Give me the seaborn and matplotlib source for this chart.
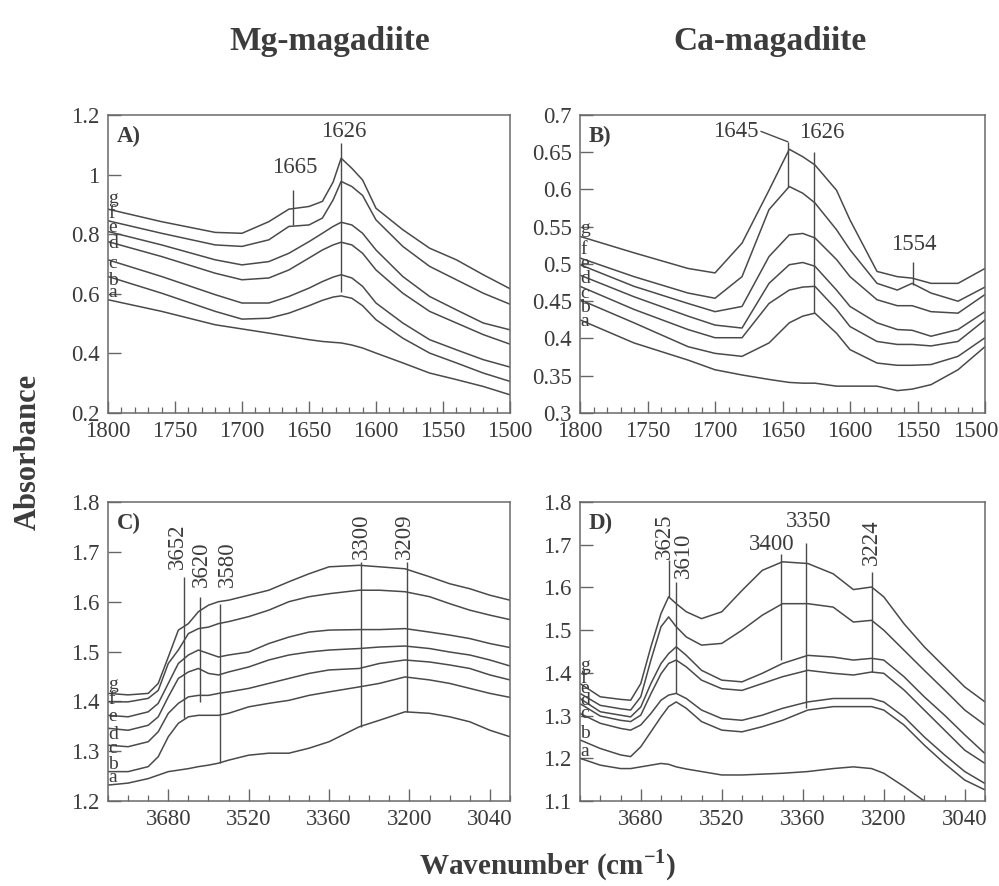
import numpy as np
import pandas as pd
import seaborn as sns
import matplotlib.pyplot as plt
from matplotlib.ticker import MultipleLocator, FixedLocator, FormatStrFormatter
from matplotlib.transforms import ScaledTranslation

# --- IR spectra (curves a..g, bottom to top) ---

# A) Mg-magadiite, bending region
wn_A = [1800, 1760, 1720, 1700, 1680, 1665, 1650, 1640, 1632, 1626, 1618, 1610,
        1600, 1580, 1560, 1540, 1520, 1500]
A_a = [0.580, 0.541, 0.496, 0.482, 0.468, 0.457, 0.446, 0.440, 0.437, 0.435, 0.428,
       0.418, 0.401, 0.368, 0.334, 0.312, 0.289, 0.261]
A_b = [0.658, 0.602, 0.541, 0.515, 0.518, 0.535, 0.560, 0.578, 0.589, 0.593, 0.585,
       0.560, 0.513, 0.451, 0.401, 0.368, 0.334, 0.306]
A_c = [0.714, 0.658, 0.597, 0.569, 0.569, 0.591, 0.619, 0.641, 0.656, 0.664, 0.653,
       0.625, 0.569, 0.502, 0.446, 0.412, 0.379, 0.354]
A_d = [0.775, 0.725, 0.669, 0.647, 0.653, 0.680, 0.720, 0.747, 0.764, 0.773, 0.764,
       0.736, 0.680, 0.602, 0.541, 0.502, 0.463, 0.431]
A_e = [0.809, 0.764, 0.714, 0.697, 0.708, 0.736, 0.775, 0.803, 0.826, 0.840, 0.831,
       0.803, 0.747, 0.658, 0.591, 0.546, 0.502, 0.479]
A_f = [0.845, 0.803, 0.764, 0.759, 0.781, 0.826, 0.831, 0.854, 0.915, 0.977, 0.960,
       0.930, 0.848, 0.759, 0.692, 0.647, 0.602, 0.565]
A_g = [0.884, 0.842, 0.806, 0.803, 0.842, 0.884, 0.893, 0.910, 0.975, 1.055, 1.021,
       0.982, 0.887, 0.815, 0.753, 0.714, 0.664, 0.617]

# B) Ca-magadiite, bending region
wn_B = [1800, 1760, 1720, 1700, 1680, 1660, 1645, 1635, 1626, 1610, 1600, 1580,
        1565, 1554, 1540, 1520, 1500]
B_a = [0.425, 0.394, 0.371, 0.358, 0.351, 0.345, 0.341, 0.340, 0.340, 0.336, 0.336,
       0.336, 0.330, 0.332, 0.338, 0.358, 0.389]
B_b = [0.452, 0.421, 0.389, 0.380, 0.376, 0.394, 0.421, 0.430, 0.434, 0.407, 0.385,
       0.367, 0.364, 0.364, 0.365, 0.376, 0.401]
B_c = [0.470, 0.439, 0.412, 0.401, 0.401, 0.447, 0.465, 0.469, 0.470, 0.439, 0.416,
       0.396, 0.392, 0.392, 0.390, 0.396, 0.425]
B_d = [0.485, 0.456, 0.430, 0.418, 0.414, 0.474, 0.499, 0.502, 0.497, 0.465, 0.443,
       0.421, 0.412, 0.411, 0.403, 0.412, 0.436]
B_e = [0.499, 0.470, 0.447, 0.436, 0.443, 0.510, 0.539, 0.541, 0.535, 0.506, 0.483,
       0.452, 0.444, 0.444, 0.436, 0.434, 0.459]
B_f = [0.508, 0.483, 0.461, 0.454, 0.483, 0.573, 0.604, 0.595, 0.582, 0.546, 0.519,
       0.474, 0.465, 0.474, 0.461, 0.450, 0.469]
B_g = [0.537, 0.515, 0.494, 0.488, 0.528, 0.599, 0.654, 0.644, 0.633, 0.599, 0.559,
       0.490, 0.483, 0.481, 0.474, 0.474, 0.494]

# C) Mg-magadiite, OH stretching region
wn_C = [3800, 3760, 3720, 3700, 3680, 3660, 3640, 3620, 3600, 3580, 3560, 3520,
        3480, 3440, 3400, 3360, 3300, 3260, 3209, 3160, 3120, 3080, 3040, 3000]
C_a = [1.232, 1.236, 1.245, 1.252, 1.259, 1.262, 1.265, 1.269, 1.272, 1.276, 1.282, 1.292,
       1.296, 1.296, 1.306, 1.319, 1.349, 1.362, 1.379, 1.376, 1.369, 1.359, 1.342, 1.329]
C_b = [1.259, 1.259, 1.269, 1.289, 1.329, 1.356, 1.369, 1.372, 1.372, 1.372, 1.376, 1.389,
       1.396, 1.402, 1.412, 1.419, 1.429, 1.436, 1.449, 1.443, 1.436, 1.426, 1.416, 1.408]
C_c = [1.312, 1.309, 1.319, 1.339, 1.376, 1.396, 1.409, 1.412, 1.412, 1.416, 1.419, 1.426,
       1.436, 1.446, 1.456, 1.463, 1.466, 1.476, 1.483, 1.479, 1.473, 1.466, 1.453, 1.443]
C_d = [1.346, 1.342, 1.352, 1.369, 1.409, 1.446, 1.459, 1.466, 1.456, 1.453, 1.459, 1.469,
       1.483, 1.493, 1.499, 1.503, 1.506, 1.509, 1.511, 1.506, 1.499, 1.493, 1.483, 1.471]
C_e = [1.372, 1.369, 1.379, 1.396, 1.436, 1.476, 1.493, 1.503, 1.496, 1.489, 1.493, 1.499,
       1.516, 1.529, 1.539, 1.543, 1.544, 1.544, 1.546, 1.539, 1.533, 1.526, 1.516, 1.508]
C_f = [1.399, 1.399, 1.406, 1.422, 1.476, 1.503, 1.536, 1.546, 1.549, 1.556, 1.560, 1.570,
       1.583, 1.600, 1.610, 1.616, 1.623, 1.623, 1.620, 1.610, 1.596, 1.583, 1.573, 1.564]
C_g = [1.416, 1.413, 1.416, 1.436, 1.489, 1.543, 1.556, 1.580, 1.593, 1.600, 1.603, 1.613,
       1.623, 1.640, 1.656, 1.670, 1.673, 1.670, 1.666, 1.650, 1.636, 1.626, 1.613, 1.603]

# D) Ca-magadiite, OH stretching region
wn_D = [3800, 3760, 3720, 3700, 3680, 3660, 3640, 3625, 3610, 3590, 3560, 3520, 3480,
        3440, 3400, 3350, 3300, 3260, 3224, 3200, 3160, 3120, 3080, 3040, 3000]
D_a = [1.200, 1.184, 1.176, 1.176, 1.180, 1.184, 1.188, 1.186, 1.180, 1.175, 1.169, 1.161, 1.161,
       1.163, 1.165, 1.169, 1.176, 1.180, 1.176, 1.165, 1.134, 1.100, 1.063, 1.024, 0.985]
D_b = [1.243, 1.223, 1.208, 1.204, 1.227, 1.262, 1.297, 1.321, 1.332, 1.317, 1.286, 1.266, 1.262,
       1.274, 1.289, 1.313, 1.321, 1.321, 1.321, 1.313, 1.278, 1.231, 1.188, 1.149, 1.126]
D_c = [1.305, 1.282, 1.270, 1.266, 1.278, 1.305, 1.336, 1.348, 1.352, 1.340, 1.313, 1.293, 1.289,
       1.301, 1.317, 1.332, 1.340, 1.340, 1.340, 1.332, 1.297, 1.250, 1.208, 1.169, 1.141]
D_d = [1.328, 1.299, 1.289, 1.286, 1.301, 1.351, 1.398, 1.422, 1.430, 1.414, 1.383, 1.363, 1.359,
       1.375, 1.391, 1.406, 1.399, 1.395, 1.402, 1.399, 1.360, 1.313, 1.266, 1.219, 1.188]
D_e = [1.340, 1.309, 1.301, 1.297, 1.320, 1.375, 1.422, 1.445, 1.461, 1.441, 1.406, 1.383, 1.379,
       1.399, 1.422, 1.441, 1.437, 1.430, 1.434, 1.430, 1.391, 1.344, 1.301, 1.255, 1.211]
D_f = [1.352, 1.324, 1.316, 1.313, 1.344, 1.430, 1.508, 1.531, 1.508, 1.484, 1.465, 1.469, 1.500,
       1.535, 1.562, 1.562, 1.554, 1.519, 1.523, 1.500, 1.453, 1.406, 1.360, 1.313, 1.278]
D_g = [1.375, 1.344, 1.338, 1.336, 1.375, 1.461, 1.539, 1.578, 1.562, 1.543, 1.527, 1.543, 1.593,
       1.640, 1.660, 1.656, 1.632, 1.595, 1.601, 1.578, 1.515, 1.461, 1.414, 1.367, 1.332]

samples = ['a', 'b', 'c', 'd', 'e', 'f', 'g']
titles = ['Mg-magadiite', 'Ca-magadiite']
panel_tags = ['A)', 'B)', 'C)', 'D)']


def long_frame(wn, curves):
    parts = [pd.DataFrame({'wn': wn, 'absorbance': vals, 'sample': s})
             for s, vals in zip(samples, curves)]
    return pd.concat(parts, ignore_index=True)


df_A = long_frame(wn_A, [A_a, A_b, A_c, A_d, A_e, A_f, A_g])
df_B = long_frame(wn_B, [B_a, B_b, B_c, B_d, B_e, B_f, B_g])
df_C = long_frame(wn_C, [C_a, C_b, C_c, C_d, C_e, C_f, C_g])
df_D = long_frame(wn_D, [D_a, D_b, D_c, D_d, D_e, D_f, D_g])

# --- style ---
sns.set_theme(style="ticks")
plt.rcParams['font.family'] = ['Liberation Serif', 'DejaVu Serif']
plt.rcParams['mathtext.fontset'] = 'custom'
plt.rcParams['mathtext.rm'] = 'Liberation Serif'
plt.rcParams['mathtext.bf'] = 'Liberation Serif:bold'

INK = '#3c3c3c'
LINE = '#4a4a4a'
FS = 16.5

fig = plt.figure(figsize=(9.99, 8.86), dpi=100)
ax_A = fig.add_axes([0.1081, 0.5339, 0.4024, 0.3363])
ax_B = fig.add_axes([0.5806, 0.5339, 0.4054, 0.3363])
ax_C = fig.add_axes([0.1081, 0.0959, 0.4024, 0.3375])
ax_D = fig.add_axes([0.5806, 0.0959, 0.4054, 0.3375])

setup = [
    (ax_A, df_A, (1800, 1500), (0.2, 1.2), 0.2),
    (ax_B, df_B, (1800, 1500), (0.3, 0.7), 0.05),
    (ax_C, df_C, (3800, 3000), (1.2, 1.8), 0.1),
    (ax_D, df_D, (3800, 3000), (1.1, 1.8), 0.1),
]

for (ax, df, xl, yl, ystep), tag in zip(setup, panel_tags):
    sns.lineplot(data=df, x='wn', y='absorbance', units='sample', estimator=None,
                 color=LINE, linewidth=1.1, legend=False, ax=ax)
    ax.set_xlim(*xl)
    ax.set_ylim(*yl)
    ax.set_xlabel('')
    ax.set_ylabel('')
    ax.yaxis.set_major_locator(MultipleLocator(ystep))
    ax.yaxis.set_major_formatter(FormatStrFormatter('%g'))
    if xl[0] == 1800:
        ax.xaxis.set_major_locator(MultipleLocator(50))
        ax.xaxis.set_minor_locator(MultipleLocator(10))
    else:
        ax.xaxis.set_major_locator(FixedLocator([3680, 3520, 3360, 3200, 3040]))
        ax.xaxis.set_minor_locator(MultipleLocator(40))
    ax.tick_params(which='major', direction='in', length=9, width=1.0, color='#666',
                   labelsize=FS, labelcolor=INK, pad=6)
    ax.tick_params(which='minor', direction='in', length=4, width=0.9, color='#666')
    ax.tick_params(axis='y', which='minor', length=0)
    for sp in ax.spines.values():
        sp.set_visible(True)
        sp.set_color('#6a6a6a')
        sp.set_linewidth(1.1)
    ax.text(0.022, 0.965, tag, transform=ax.transAxes, ha='left', va='top',
            fontsize=FS, fontweight='bold', color=INK)

# curve letters stacked against the left spine
tag_y = {
    ax_A: [0.603, 0.646, 0.700, 0.770, 0.821, 0.871, 0.921],
    ax_B: [0.423, 0.441, 0.461, 0.481, 0.501, 0.519, 0.548],
    ax_C: [1.248, 1.274, 1.306, 1.334, 1.369, 1.403, 1.433],
    ax_D: [1.215, 1.259, 1.305, 1.336, 1.363, 1.387, 1.418],
}
for ax, ys in tag_y.items():
    x0 = ax.get_xlim()[0]
    for s, y in zip(samples, ys):
        ax.text(x0, y, s, ha='left', va='center', fontsize=14, color=INK)

kw = dict(colors=LINE, linewidth=1.0)
tkw = dict(fontsize=FS, color=INK)

# A) peak markers
ax_A.vlines(1626, 0.606, 1.106, **kw)
ax_A.text(1624, 1.127, '1626', ha='center', va='baseline', **tkw)
ax_A.vlines(1662, 0.831, 0.948, **kw)
ax_A.text(1661, 1.004, '1665', ha='center', va='baseline', **tkw)

# B) peak markers
ax_B.plot([1666, 1646], [0.678, 0.664], color=LINE, linewidth=1.0)
ax_B.vlines(1646, 0.604, 0.664, **kw)
ax_B.text(1668, 0.671, '1645', ha='right', va='baseline', **tkw)
ax_B.vlines(1626.5, 0.434, 0.651, **kw)
ax_B.text(1621, 0.669, '1626', ha='center', va='baseline', **tkw)
ax_B.vlines(1553, 0.472, 0.503, **kw)
ax_B.text(1553, 0.519, '1554', ha='center', va='baseline', **tkw)

# C) peak markers (rotated labels)
for xl_, y0, y1, xt, yt, lab in [(3648, 1.366, 1.650, 3662, 1.666, '3652'),
                                  (3617, 1.399, 1.610, 3615, 1.630, '3620'),
                                  (3578, 1.276, 1.596, 3563, 1.630, '3580'),
                                  (3296, 1.349, 1.680, 3296, 1.686, '3300'),
                                  (3205, 1.379, 1.680, 3210, 1.686, '3209')]:
    ax_C.vlines(xl_, y0, y1, **kw)
    ax_C.text(xt, yt, lab, rotation=90, ha='center', va='bottom', **tkw)

# D) peak markers
for xl_, y0, y1, xt, yt, lab in [(3625, 1.578, 1.664, 3634, 1.667, '3625'),
                                  (3610, 1.352, 1.613, 3596, 1.621, '3610'),
                                  (3224, 1.402, 1.636, 3224, 1.652, '3224')]:
    ax_D.vlines(xl_, y0, y1, **kw)
    ax_D.text(xt, yt, lab, rotation=90, ha='center', va='bottom', **tkw)
ax_D.vlines(3403, 1.430, 1.679, **kw)
ax_D.text(3421, 1.687, '3400', ha='center', va='baseline', **tkw)
ax_D.vlines(3354, 1.317, 1.703, **kw)
ax_D.text(3349, 1.742, '3350', ha='center', va='baseline', **tkw)

# column titles and shared axis labels
fig.text(0.330, 0.953, titles[0], ha='center', va='center', fontsize=24,
         fontweight='bold', color=INK)
fig.text(0.771, 0.953, titles[1], ha='center', va='center', fontsize=24,
         fontweight='bold', color=INK)
fig.text(0.028, 0.49, 'Absorbance', rotation=90, ha='center', va='center',
         fontsize=22, fontweight='bold', color=INK)
fig.text(0.548, 0.024, r'Wavenumber (cm$^{\mathbf{-1}}$)', ha='center', va='center',
         fontsize=21, fontweight='bold', color=INK)

# keep the last tick label of panel B inside the figure
fig.canvas.draw()
for lab in ax_B.get_xticklabels():
    if lab.get_text() == '1500':
        lab.set_transform(lab.get_transform() + ScaledTranslation(-0.09, 0, fig.dpi_scale_trans))

fig.savefig('out.png', dpi=100, facecolor='white')
